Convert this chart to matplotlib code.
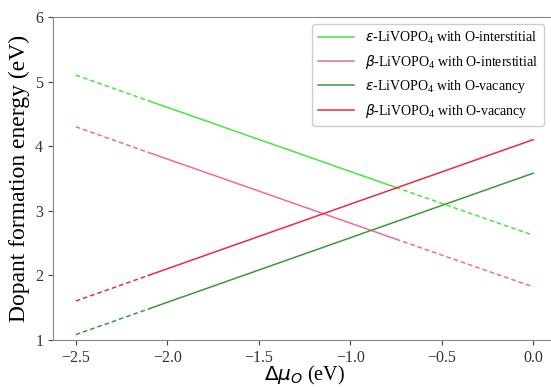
import numpy as np
from matplotlib import pyplot as plt

plt.rcParams['font.family'] = ['Liberation Serif', 'DejaVu Serif']
plt.rcParams['mathtext.fontset'] = 'dejavusans'

# oxygen chemical potential where the line style changes
mu = [-2.5, -2.1, -0.75, 0.0]

# formation energies (eV) at those points
eps_int = [5.10, 4.70, 3.36, 2.62]
beta_int = [4.30, 3.90, 2.56, 1.82]
eps_vac = [1.08, 1.48, 2.83, 3.58]
beta_vac = [1.60, 2.00, 3.35, 4.10]

labels = ["$\\varepsilon$-LiVOPO$_\\mathregular{4}$ with O-interstitial",
          "$\\beta$-LiVOPO$_\\mathregular{4}$ with O-interstitial",
          "$\\varepsilon$-LiVOPO$_\\mathregular{4}$ with O-vacancy",
          "$\\beta$-LiVOPO$_\\mathregular{4}$ with O-vacancy"]
colors = ["#44e83c", "#ee6a9e", "#3a9a3a", "#ee2a3c"]
# segment styles: dashed / solid / dashed
styles = [["--", "-", "--"], ["--", "-", "--"], ["--", "-", "-"], ["--", "-", "-"]]

fig = plt.figure(figsize=(5.51, 3.87), dpi=100)
ax = fig.add_axes([0.096, 0.122, 0.913, 0.834])

for ys, c, st, lab in zip([eps_int, beta_int, eps_vac, beta_vac], colors, styles, labels):
    for i in range(3):
        ln, = ax.plot(mu[i:i+2], ys[i:i+2], color=c, ls=st[i], lw=1.1,
                      label=lab if i == 1 else None)
        if st[i] == "--":
            ln.set_dashes((3, 2))

ax.set_xlim(-2.625, 0.125)
ax.set_ylim(1, 6)
ax.set_xticks([-2.5, -2.0, -1.5, -1.0, -0.5, 0.0])
ax.set_yticks([1, 2, 3, 4, 5, 6])
ax.tick_params(labelsize=11.5, colors='#444444', labelcolor='#333333')
for s in ax.spines.values():
    s.set_color('#888888')

ax.set_xlabel("$\\Delta\\mu_O$ (eV)", fontsize=14.5, labelpad=-1)
ax.set_ylabel("Dopant formation energy (eV)", fontsize=17, labelpad=4)

ax.legend(loc='upper right', bbox_to_anchor=(1.0, 0.955), bbox_transform=fig.transFigure,
          fontsize=10, handlelength=2.6, fancybox=True, framealpha=1, edgecolor='#cccccc')

plt.savefig("out.png", dpi=100)
